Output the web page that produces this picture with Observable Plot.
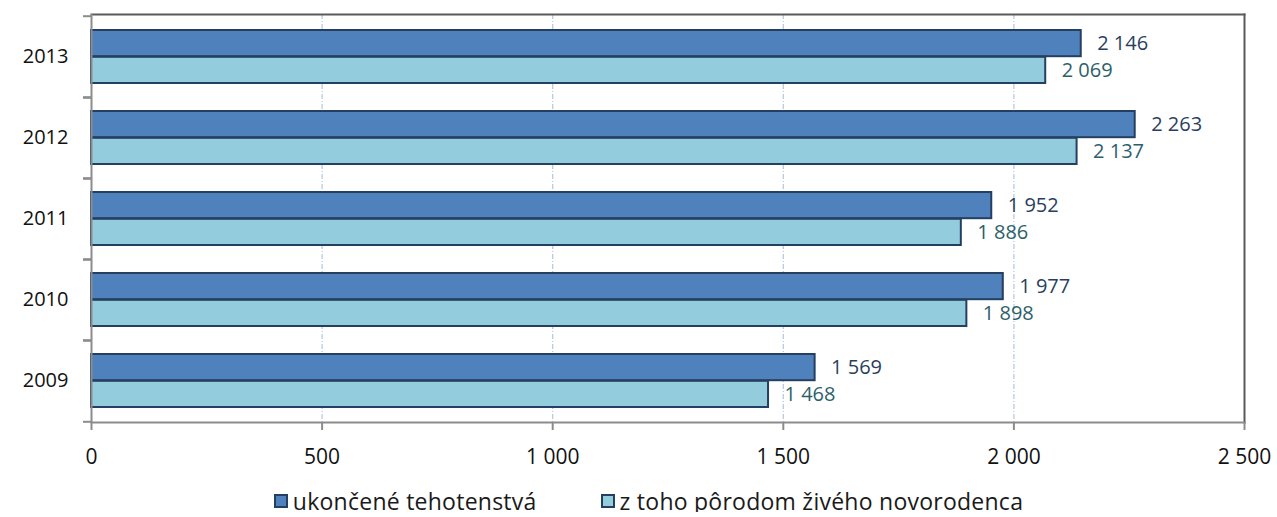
<!DOCTYPE html>
<html>
<head>
<meta charset="utf-8">
<script src="https://cdn.jsdelivr.net/npm/d3@7"></script>
<script src="https://cdn.jsdelivr.net/npm/@observablehq/plot@0.6"></script>
<style>
  html, body { margin: 0; padding: 0; background: #fff; overflow: hidden; }
  #chart { width: 1277px; }
  .legend { display: flex; justify-content: center; align-items: center; padding-left: 20px; padding-top: 20px;
    font-family: "Open Sans", sans-serif; font-size: 23px; letter-spacing: 0.25px; color: #1a1a1a; line-height: 22px; height: 22px; }
  .legend .item { display: flex; align-items: center; margin: 0 32px; }
  .legend .sw { width: 10px; height: 10px; border: 2px solid #243f60; margin-right: 5px; }
</style>
</head>
<body>
<div id="chart"></div>
<script>
const years = ["2013", "2012", "2011", "2010", "2009"];
const totalPregnancies = [2146, 2263, 1952, 1977, 1569];
const liveBirths = [2069, 2137, 1886, 1898, 1468];
const seriesNames = ["ukončené tehotenstvá", "z toho pôrodom živého novorodenca"];
const xTicks = [0, 500, 1000, 1500, 2000, 2500];
const colors = ["#4f81bd", "#93cddd"];

const fmt = d => d3.format(",")(d).replace(/,/g, " ");
const rowsTotal = years.map((y, i) => ({year: y, value: totalPregnancies[i]}));
const rowsLive = years.map((y, i) => ({year: y, value: liveBirths[i]}));

const svgH = 470, mTop = 14, mBottom = 48;
const half = (svgH - mTop - mBottom) / years.length / 2;
const barH = half - 14;

const chart = Plot.plot({
  width: 1277,
  height: svgH,
  marginLeft: 91,
  marginRight: 33,
  marginTop: mTop,
  marginBottom: mBottom,
  style: {fontFamily: "Open Sans, sans-serif", background: "#fff"},
  x: {domain: [0, 2500]},
  y: {domain: years, padding: 0},
  marks: [
    Plot.ruleX(xTicks.slice(1, -1), {stroke: "#b4c6e2", strokeWidth: 1.2, strokeDasharray: "5,2,1,2"}),
    Plot.barX(rowsTotal, {x: "value", y: "year", fill: colors[0], stroke: "#243f60", strokeWidth: 2,
      insetTop: 14, insetBottom: half}),
    Plot.barX(rowsLive, {x: "value", y: "year", fill: colors[1], stroke: "#243f60", strokeWidth: 2,
      insetTop: half, insetBottom: 14}),
    Plot.frame({anchor: "top", stroke: "#5a5a5a", strokeWidth: 2}),
    Plot.frame({anchor: "right", stroke: "#5a5a5a", strokeWidth: 2}),
    Plot.frame({anchor: "bottom", stroke: "#8c8c8c", strokeWidth: 2}),
    Plot.ruleX([0], {stroke: "#8c8c8c", strokeWidth: 2}),
    Plot.axisY({tickSize: 0, tickPadding: 23, fontSize: 20, color: "#111", label: null}),
    Plot.axisY({tickSize: 8, tickFormat: () => "", dy: -half, stroke: "#8c8c8c", strokeWidth: 2, label: null}),
    Plot.axisY({tickSize: 8, tickFormat: () => "", dy: half, stroke: "#8c8c8c", strokeWidth: 2, label: null}),
    Plot.axisX({ticks: xTicks, tickSize: 8, tickPadding: 19, tickFormat: fmt, fontSize: 21, color: "#111",
      stroke: "#8c8c8c", strokeWidth: 2, label: null}),
    Plot.text(rowsTotal, {x: "value", y: "year", text: d => fmt(d.value), dx: 16, dy: -barH / 2,
      textAnchor: "start", fontSize: 20, fill: "#2a3f5f"}),
    Plot.text(rowsLive, {x: "value", y: "year", text: d => fmt(d.value), dx: 16, dy: barH / 2,
      textAnchor: "start", fontSize: 20, fill: "#2d5f6b"})
  ]
});
document.getElementById("chart").appendChild(chart);

const legend = document.createElement("div");
legend.className = "legend";
seriesNames.forEach((name, i) => {
  const item = document.createElement("div");
  item.className = "item";
  const sw = document.createElement("span");
  sw.className = "sw";
  sw.style.background = colors[i];
  const t = document.createElement("span");
  t.textContent = name;
  item.appendChild(sw);
  item.appendChild(t);
  legend.appendChild(item);
});
document.getElementById("chart").appendChild(legend);
</script>
</body>
</html>
